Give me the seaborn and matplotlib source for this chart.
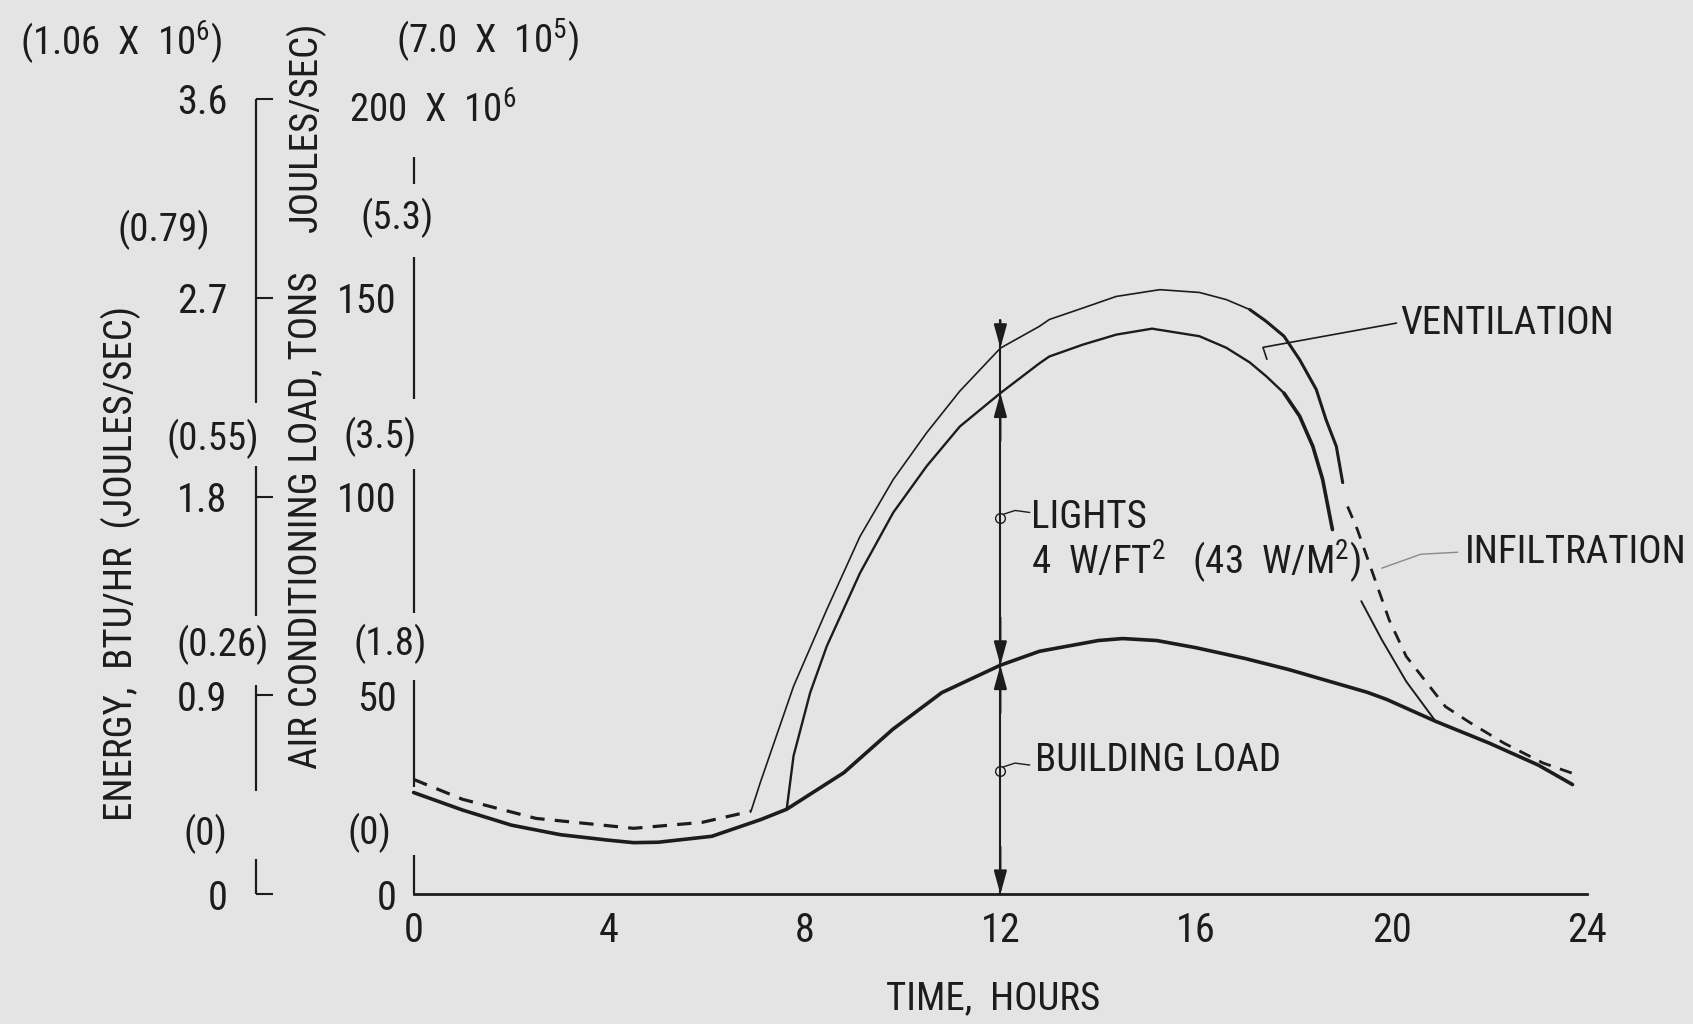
import numpy as np
import matplotlib
matplotlib.use("Agg")
import matplotlib.pyplot as plt
import matplotlib.transforms as mtransforms
import matplotlib.font_manager as fm
import seaborn as sns

# ---------------- data ----------------
building_x = [0, 1.0, 2.0, 3.0, 4.0, 4.5, 5.0, 6.1, 7.1, 7.63, 8.8, 9.8, 10.8, 12.0, 12.8,
              14.0, 14.5, 15.2, 16.0, 17.0, 17.9, 19.5, 19.9, 20.9, 22.0, 23.0, 23.7]
building_y = [25.6, 21.2, 17.4, 15.0, 13.6, 13.0, 13.1, 14.6, 18.8, 21.4, 30.6, 41.5, 50.7, 57.6, 61.1,
              63.8, 64.3, 63.8, 62.0, 59.3, 56.5, 50.8, 49.0, 43.5, 38.0, 32.5, 27.6]

infil_night_x = [0, 1.0, 2.5, 4.5, 5.9, 6.9]
infil_night_y = [28.9, 23.9, 19.1, 16.6, 18.1, 20.9]

vent_outer_x = [6.9, 7.09, 7.77, 8.45, 9.13, 9.81, 10.49, 11.17, 12.0, 12.8, 13.0, 13.69, 14.37,
                15.26, 16.07, 16.62, 17.1, 17.44, 17.8, 18.12, 18.46, 18.66, 18.87, 19.0]
vent_outer_y = [20.9, 28.1, 52.3, 71.6, 90.0, 104.3, 116.0, 126.5, 137.3, 142.8, 144.5, 147.4, 150.3,
                152.0, 151.3, 149.5, 147.0, 144.0, 140.3, 134.4, 126.9, 119.3, 112.6, 103.5]

vent_inner_x = [7.63, 7.77, 8.11, 8.45, 9.13, 9.81, 10.49, 11.17, 12.0, 12.8, 13.0, 13.69, 14.37,
                15.1, 16.07, 16.62, 17.1, 17.44, 17.8, 18.12, 18.39, 18.59, 18.79]
vent_inner_y = [21.4, 34.8, 50.7, 62.4, 80.8, 96.0, 107.6, 117.6, 126.0, 133.5, 135.2, 138.2, 140.7,
                142.2, 140.3, 137.4, 133.7, 130.2, 126.0, 120.2, 112.6, 104.3, 91.7]

evening_solid_x = [19.38, 19.8, 20.3, 20.9]
evening_solid_y = [73.7, 64.0, 53.5, 43.5]

infil_evening_x = [19.1, 19.3, 19.95, 20.3, 21.1, 21.6, 22.3, 23.1, 23.8]
infil_evening_y = [97.5, 91.7, 69.0, 59.8, 47.2, 43.2, 38.0, 33.0, 30.0]

x_ticks = [0, 4, 8, 12, 16, 20, 24]
x_tick_labels = ["0", "4", "8", "12", "16", "20", "24"]
tons_ticks = [0, 50, 100, 150]
tons_tick_labels = ["0", "50", "100", "150"]
btu_ticks = [0, 0.9, 1.8, 2.7, 3.6]
btu_tick_labels = ["0", "0.9", "1.8", "2.7", "3.6"]
BTU_PER_TON_UNIT = 3.6 / 200.0

tons_joule_labels = ["(0)", "(1.8)", "(3.5)", "(5.3)"]
tons_joule_levels = [15.5, 63, 115, 170]
btu_joule_labels = ["(0)", "(0.26)", "(0.55)", "(0.79)"]
btu_joule_levels = [15.3, 62.6, 114.5, 167]

LIGHTS_TIME = 12

# ---------------- style ----------------
BG = "#e4e4e4"
INK = "#1c1c1c"

sns.set_theme(style="white")
avail = {f.name for f in fm.fontManager.ttflist}
FONT = next((f for f in ["Liberation Sans Narrow", "Roboto Condensed", "DejaVu Sans Condensed"]
             if f in avail), "Liberation Sans")
plt.rcParams["font.family"] = [FONT, "DejaVu Sans"]
plt.rcParams["font.stretch"] = "condensed"
plt.rcParams["mathtext.fontset"] = "custom"
plt.rcParams["mathtext.rm"] = FONT
plt.rcParams["mathtext.it"] = FONT
plt.rcParams["mathtext.bf"] = FONT
plt.rcParams["text.color"] = INK
plt.rcParams["axes.edgecolor"] = INK
plt.rcParams["xtick.color"] = INK
plt.rcParams["ytick.color"] = INK

FS = 28
FS_TICK = 29

fig = plt.figure(figsize=(16.93, 10.24), dpi=100)
fig.patch.set_facecolor(BG)
ax = fig.add_axes([0.2443, 0.1266, 0.6932, 0.777])
ax.set_facecolor(BG)
ax.set_xlim(0, 24)
ax.set_ylim(0, 200)

for sp in ["top", "right", "left"]:
    ax.spines[sp].set_visible(False)
ax.spines["bottom"].set_linewidth(2.0)
ax.spines["bottom"].set_color(INK)

ax.set_xticks(x_ticks, labels=x_tick_labels)
ax.set_yticks(tons_ticks, labels=tons_tick_labels)
ax.tick_params(axis="x", direction="in", length=12, width=1.5, pad=12, labelsize=FS_TICK)
ax.tick_params(axis="y", direction="in", length=13, width=1.5, pad=12, labelsize=FS_TICK)

# tons axis (broken line)
for lo, hi in [(0, 10), (27, 54), (70.6, 107), (124.5, 160.3), (178.6, 185.3)]:
    ax.plot([0, 0], [lo, hi], color=INK, lw=1.6, clip_on=False, solid_capstyle="butt")

# BTU secondary axis
BTU_LOC = -0.134
sec = ax.secondary_yaxis(BTU_LOC, functions=(lambda v: np.asarray(v) * BTU_PER_TON_UNIT,
                                             lambda v: np.asarray(v) / BTU_PER_TON_UNIT))
sec.set_yticks(btu_ticks, labels=btu_tick_labels)
sec.tick_params(direction="in", length=12, width=1.5, pad=21, labelsize=FS_TICK, colors=INK)
sec.spines["left"].set_visible(False)
sec.set_facecolor("none")
blend = mtransforms.blended_transform_factory(ax.transAxes, ax.transData)
for lo, hi in [(0, 9), (26, 52.6), (70, 107.8), (123.6, 200)]:
    ax.plot([BTU_LOC, BTU_LOC], [lo, hi], color=INK, lw=1.6, clip_on=False,
            transform=blend, solid_capstyle="butt")

# parenthetical joule labels
tons_joule_x = [-0.0377, -0.020, -0.0285, -0.0138]
for lab, lev, xf in zip(tons_joule_labels, tons_joule_levels, tons_joule_x):
    ax.text(xf, lev, lab, transform=blend, ha="center", va="center", fontsize=FS)
btu_joule_x = [-0.1775, -0.1628, -0.171, -0.2125]
for lab, lev, xf in zip(btu_joule_labels, btu_joule_levels, btu_joule_x):
    ax.text(xf, lev, lab, transform=blend, ha="center", va="center", fontsize=FS)
ax.text(0.0626, 214.5, r"(7.0  X  10$^{\mathregular{5}}$)", transform=blend, ha="center",
        va="center", fontsize=FS)
ax.text(0.0166, 197, r"200  X  10$^{\mathregular{6}}$", transform=blend, ha="center",
        va="center", fontsize=FS)
ax.text(-0.2493, 214, r"(1.06  X  10$^{\mathregular{6}}$)", transform=blend, ha="center",
        va="center", fontsize=FS)

# axis titles
fig.text(0.0714, 0.4494, "ENERGY,  BTU/HR  (JOULES/SEC)", rotation=90, ha="center",
         va="center", fontsize=28)
fig.text(0.1805, 1 - 712 / 948, "AIR CONDITIONING LOAD, TONS", rotation=90, ha="center",
         va="bottom", fontsize=28)
fig.text(0.1805, 1 - 20 / 948, "JOULES/SEC)", rotation=90, ha="center", va="top", fontsize=28)
fig.text(0.5867, 0.0243, "TIME,  HOURS", ha="center", va="center", fontsize=FS)

# ---------------- curves ----------------
def line(x, y, lw, dashes=None, alpha=1.0):
    sns.lineplot(x=x, y=y, ax=ax, color=INK, linewidth=lw, sort=False, estimator=None,
                 alpha=alpha)
    ln = ax.lines[-1]
    ln.set_clip_on(False)
    ln.set_solid_joinstyle("round")
    if dashes is not None:
        ln.set_dashes(dashes)
    return ln

line(building_x, building_y, 2.6)
line(infil_night_x, infil_night_y, 2.3, dashes=[4.5, 3.2])
line(vent_outer_x, vent_outer_y, 1.2)
ox = [x for x in vent_outer_x if x >= 17.1]
line(ox, vent_outer_y[-len(ox):], 2.2)
line(vent_inner_x, vent_inner_y, 1.7)
ix = [x for x in vent_inner_x if x >= 17.8]
line(ix, vent_inner_y[-len(ix):], 2.6)
line(evening_solid_x, evening_solid_y, 1.4)
line(infil_evening_x, infil_evening_y, 2.0, dashes=[4.5, 3.5])

# ---------------- vertical arrow at 12 h ----------------
top_lvl = np.interp(LIGHTS_TIME, vent_outer_x, vent_outer_y)
mid_lvl = np.interp(LIGHTS_TIME, vent_inner_x, vent_inner_y)
bld_lvl = np.interp(LIGHTS_TIME, building_x, building_y)
ax.plot([LIGHTS_TIME, LIGHTS_TIME], [0, top_lvl + 7], color=INK, lw=1.5)
astyle = dict(arrowstyle="-|>,head_length=0.8,head_width=0.22", color=INK, lw=1.5,
              mutation_scale=18, shrinkA=0, shrinkB=0)
for tail, tip in [(top_lvl + 7, top_lvl), (mid_lvl - 12, mid_lvl), (bld_lvl + 12, bld_lvl),
                  (bld_lvl - 12, bld_lvl), (12, 0)]:
    ax.annotate("", xy=(LIGHTS_TIME, tip), xytext=(LIGHTS_TIME, tail), arrowprops=astyle)

# label leaders
ax.plot([12.05, 12.3, 12.6], [95.5, 96.5, 96.0], color=INK, lw=1.0)
ax.plot([LIGHTS_TIME], [94.5], marker="o", ms=7, mfc="none", mec=INK, mew=1.0)
ax.plot([12.05, 12.3, 12.6], [32.0, 33.0, 32.5], color=INK, lw=1.0)
ax.plot([LIGHTS_TIME], [31.0], marker="o", ms=7, mfc="none", mec=INK, mew=1.0)

ax.text(12.62, 94.7, "LIGHTS", ha="left", va="center", fontsize=FS)
ax.text(12.62, 83.5, r"4  W/FT$^{\mathregular{2}}$   (43  W/M$^{\mathregular{2}}$)",
        ha="left", va="center", fontsize=FS)
ax.text(12.7, 33.6, "BUILDING LOAD", ha="left", va="center", fontsize=FS)

ax.plot([20.1, 17.37, 17.45], [143.6, 137.5, 134.5], color=INK, lw=1.2, clip_on=False)
ax.text(20.17, 143.5, "VENTILATION", ha="left", va="center", fontsize=FS, clip_on=False)
ax.plot([21.35, 20.6, 19.8], [86.0, 85.5, 82.0], color="#8a8a8a", lw=1.0, clip_on=False)
ax.text(21.5, 86.0, "INFILTRATION", ha="left", va="center", fontsize=FS, clip_on=False)

fig.savefig("out.png", dpi=100, facecolor=BG)
